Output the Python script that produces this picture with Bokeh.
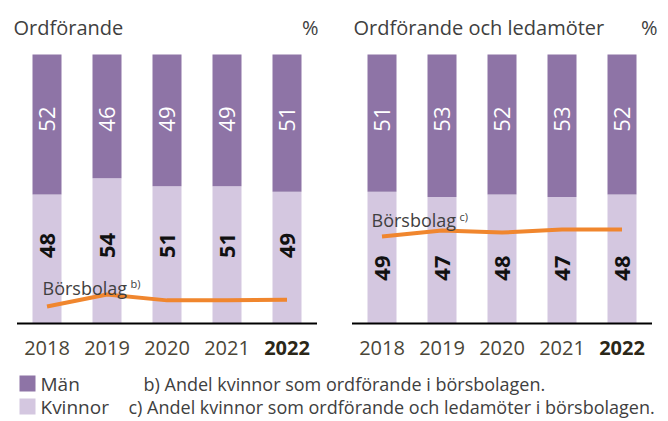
from math import pi
from bokeh.plotting import figure
from bokeh.layouts import column, row
from bokeh.models import Range1d, ColumnDataSource
from bokeh.core.properties import value
from bokeh.embed import file_html
from bokeh.resources import INLINE

# ---------------- data ----------------
years = ["2018", "2019", "2020", "2021", "2022"]
chair_men = [52, 46, 49, 49, 51]
chair_women = [48, 54, 51, 51, 49]
board_men = [51, 53, 52, 53, 52]
board_women = [49, 47, 48, 47, 48]
chair_listed = [6.3, 10.8, 8.6, 8.6, 8.8]      # Börsbolag b)
board_listed = [32.3, 34.6, 33.8, 34.9, 34.9]  # Börsbolag c)

titles = ["Ordförande", "Ordförande och ledamöter"]
series_names = ["Män", "Kvinnor"]
notes = ["b) Andel kvinnor som ordförande i börsbolagen.",
         "c) Andel kvinnor som ordförande och ledamöter i börsbolagen."]

# ---------------- style ----------------
C_MEN = "#8e74a6"
C_WOMEN = "#d4c7e0"
C_LINE = "#f0862e"
C_TEXT = "#404040"
C_YEAR = "#4a4637"
C_YEAR_BOLD = "#2b2718"
FONT = value("Open Sans")

PPU = 2.69           # pixels per percent
TOP_H = 370
BASE_FROM_TOP = 323  # baseline pixel within top figures
XPU = 60.0           # pixels per bar step


def panel(width, x0, title, men, women, listed, note_mark, pct_x, title_x,
          bors_x, bors_y, sup_dx, sup_dy, women_label_y):
    def yv(px):
        return (BASE_FROM_TOP - px) / PPU

    def xv(px):
        return (px - x0) / XPU

    p = figure(width=width, height=TOP_H, output_backend="svg",
               toolbar_location=None, min_border=0,
               x_range=Range1d(xv(0), xv(width)),
               y_range=Range1d(yv(TOP_H), yv(0)))
    p.axis.visible = False
    p.grid.visible = False
    p.outline_line_color = None
    p.background_fill_color = "white"

    idx = list(range(len(years)))
    tops = [w + m for w, m in zip(women, men)]
    src = ColumnDataSource(dict(x=idx, women=women, men=men, tops=tops,
                                zero=[0] * len(idx),
                                wl=[str(v) for v in women],
                                ml=[str(v) for v in men],
                                listed=listed, years=years,
                                ystyle=["normal"] * (len(idx) - 1) + ["bold"],
                                ycolor=[C_YEAR] * (len(idx) - 1) + [C_YEAR_BOLD]))
    bw = 29 / XPU
    p.vbar(x="x", bottom="zero", top="women", width=bw, source=src,
           fill_color=C_WOMEN, line_color=None)
    p.vbar(x="x", bottom="women", top="tops", width=bw, source=src,
           fill_color=C_MEN, line_color=None)

    # value labels
    p.text(x="x", y=76, text="ml", source=src, angle=pi / 2,
           text_align="center", text_baseline="middle", text_color="white",
           text_font=FONT, text_font_size="22px")
    p.text(x="x", y=women_label_y, text="wl", source=src, angle=pi / 2,
           text_align="center", text_baseline="middle", text_color="#111111",
           text_font=FONT, text_font_size="22px", text_font_style="bold")

    # listed companies line
    p.line(x="x", y="listed", source=src, line_color=C_LINE, line_width=4)
    p.text(x=[xv(bors_x)], y=[yv(bors_y)], text=["Börsbolag"],
           text_align="left", text_baseline="alphabetic", text_color=C_TEXT,
           text_font=FONT, text_font_size="18px")
    p.text(x=[xv(bors_x + sup_dx)], y=[yv(bors_y - sup_dy)], text=[note_mark],
           text_align="left", text_baseline="alphabetic", text_color=C_TEXT,
           text_font=FONT, text_font_size="11px")

    # baseline axis
    p.segment(x0=[-0.5], y0=[0], x1=[len(years) - 0.5], y1=[0],
              line_color="black", line_width=2)

    # year labels
    p.text(x="x", y=yv(347), text="years", source=src, text_align="center",
           text_baseline="middle", text_color="ycolor", text_font=FONT,
           text_font_size="20px", text_font_style="ystyle")

    # titles
    p.text(x=[xv(title_x)], y=[yv(27)], text=[title], text_align="left",
           text_baseline="alphabetic", text_color=C_TEXT, text_font=FONT,
           text_font_size="20px")
    p.text(x=[xv(pct_x)], y=[yv(27)], text=["%"], text_align="right",
           text_baseline="alphabetic", text_color=C_TEXT, text_font=FONT,
           text_font_size="20px")
    return p


p1 = panel(343, 46.5, titles[0], chair_men, chair_women, chair_listed, "b)",
           pct_x=318, title_x=13, bors_x=42, bors_y=287, sup_dx=88, sup_dy=4,
           women_label_y=29)
p2 = panel(325, 38.5, titles[1], board_men, board_women, board_listed, "c)",
           pct_x=314, title_x=10, bors_x=28, bors_y=219, sup_dx=88, sup_dy=3,
           women_label_y=20.6)

# ---------------- legend / notes ----------------
BH = 51
p3 = figure(width=668, height=BH, output_backend="svg", toolbar_location=None,
            min_border=0, x_range=Range1d(0, 668), y_range=Range1d(0, BH))
p3.axis.visible = False
p3.grid.visible = False
p3.outline_line_color = None

leg_colors = [C_MEN, C_WOMEN]
leg_y = [38, 15]
p3.rect(x=[27, 27], y=leg_y, width=16, height=16, fill_color=leg_colors,
        line_color=None)
p3.text(x=[40, 40], y=leg_y, text=series_names, text_align="left",
        text_baseline="middle", text_color=C_TEXT, text_font=FONT,
        text_font_size="19px")
p3.text(x=[143, 128], y=leg_y, text=notes, text_align="left",
        text_baseline="middle", text_color=C_TEXT, text_font=FONT,
        text_font_size="18px")

layout = column(row(p1, p2), p3)
open("out.html", "w").write(file_html(layout, INLINE))
